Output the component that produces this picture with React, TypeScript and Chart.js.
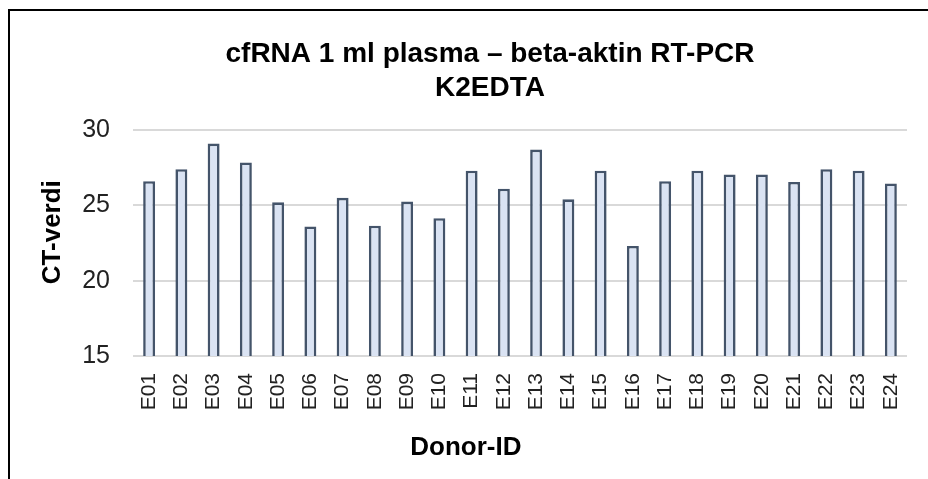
import React, { useEffect, useRef } from "react";
import { Chart, registerables } from "chart.js";

Chart.register(...registerables);

const categories = [
  "E01", "E02", "E03", "E04", "E05", "E06", "E07", "E08", "E09", "E10", "E11", "E12",
  "E13", "E14", "E15", "E16", "E17", "E18", "E19", "E20", "E21", "E22", "E23", "E24",
];
const ctValues = [
  26.6, 27.4, 29.1, 27.85, 25.2, 23.6, 25.5, 23.65, 25.25, 24.15, 27.3, 26.1,
  28.7, 25.4, 27.3, 22.3, 26.6, 27.3, 27.05, 27.05, 26.55, 27.4, 27.3, 26.45,
];
const titleLines = ["cfRNA 1 ml plasma – beta-aktin RT-PCR", "K2EDTA"];
const yAxisTitle = "CT-verdi";
const xAxisTitle = "Donor-ID";
const yMin = 15;
const yMax = 30;
const yStep = 5;

const FONT = "'Liberation Sans', Arial, Helvetica, sans-serif";

export default function App() {
  const ref = useRef<HTMLCanvasElement | null>(null);

  useEffect(() => {
    if (!ref.current) return;
    const chart = new Chart(ref.current, {
      type: "bar",
      data: {
        labels: categories,
        datasets: [
          {
            label: yAxisTitle,
            data: ctValues,
            backgroundColor: "#dae3f3",
            borderColor: "#44546a",
            borderWidth: 2.6,
            categoryPercentage: 1,
            barPercentage: 0.37,
            yAxisID: "y",
          },
        ],
      },
      options: {
        responsive: false,
        animation: false,
        devicePixelRatio: 1,
        layout: { padding: 0 },
        plugins: {
          legend: { display: false },
          tooltip: { enabled: false },
          title: {
            display: true,
            text: titleLines,
            color: "#000",
            font: { family: FONT, size: 28, weight: "bold", lineHeight: 34 / 28 },
            padding: { top: 26, bottom: 25 },
          },
        },
        scales: {
          x: {
            grid: { display: false, drawTicks: false },
            border: { display: false },
            ticks: {
              color: "#222",
              font: { family: FONT, size: 21 },
              minRotation: 90,
              maxRotation: 90,
              padding: 17,
              autoSkip: false,
            },
            title: {
              display: true,
              text: xAxisTitle + "               ",
              color: "#000",
              font: { family: FONT, size: 26, weight: "bold", lineHeight: 1 },
              padding: { top: 0, bottom: 18.5 },
            },
            afterFit: (scale: any) => {
              scale.height = 123;
            },
          },
          y: {
            position: "left",
            min: yMin,
            max: yMax,
            grid: { color: "#d9d9d9", lineWidth: 2, drawTicks: false },
            border: { display: false },
            ticks: {
              stepSize: yStep,
              color: "#222",
              font: { family: FONT, size: 25 },
              padding: 23,
            },
            title: {
              display: true,
              text: "   " + yAxisTitle,
              color: "#000",
              font: { family: FONT, size: 26, weight: "bold", lineHeight: 1 },
              padding: { top: 30, bottom: 0 },
            },
            afterFit: (scale: any) => {
              scale.width = 123;
            },
          },
          yRight: {
            position: "right",
            min: yMin,
            max: yMax,
            display: true,
            grid: { display: false, drawTicks: false },
            border: { display: false },
            ticks: { display: false },
            afterFit: (scale: any) => {
              scale.width = 63;
            },
          },
        },
      },
    });
    return () => chart.destroy();
  }, []);

  return (
    <div style={{ position: "fixed", left: 0, top: 0, width: "100vw", height: "100vh", overflow: "hidden", background: "#fff" }}>
      <div
        style={{
          position: "absolute",
          left: 8,
          top: 9,
          width: 1000,
          height: 520,
          border: "2px solid #000",
          background: "#fff",
        }}
      >
        <canvas ref={ref} width={960} height={468} style={{ display: "block" }} />
      </div>
    </div>
  );
}
